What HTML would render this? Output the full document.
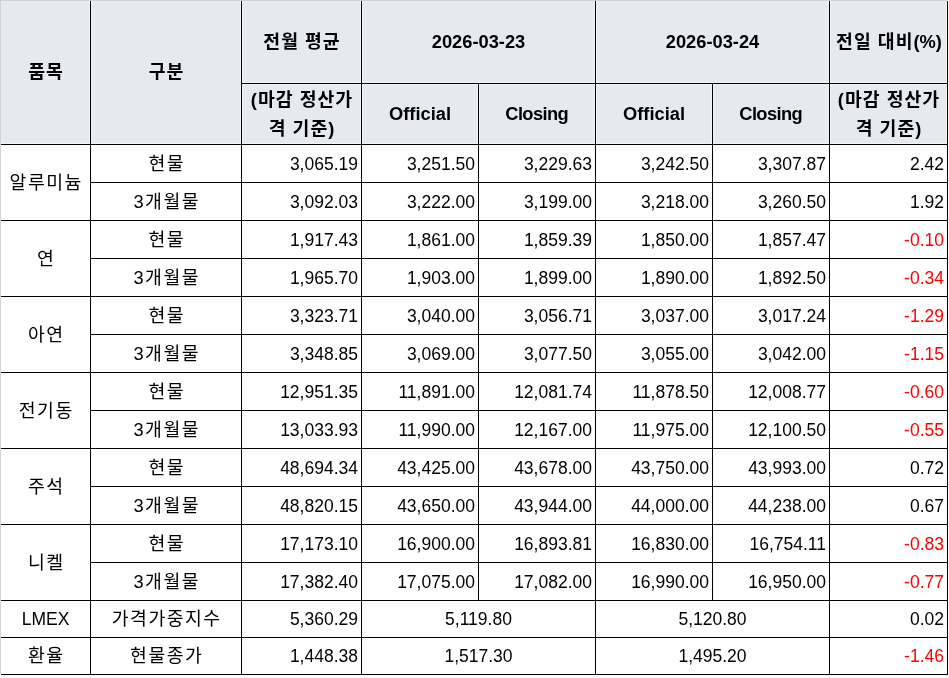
<!DOCTYPE html>
<html lang="ko"><head><meta charset="utf-8"><title>LME</title><style>
html,body{margin:0;padding:0;background:#fff;}
body{width:949px;height:678px;position:relative;overflow:hidden;}
div{position:absolute;box-sizing:border-box;}
.c{display:flex;align-items:center;justify-content:center;text-align:center;white-space:nowrap;}
.r{display:flex;align-items:center;justify-content:flex-end;white-space:nowrap;padding-right:3px;}
.hb{font-family:"Liberation Sans", "Noto Sans CJK KR", sans-serif;font-weight:bold;font-size:18.3px;line-height:26px;color:#000;letter-spacing:1px;padding-left:1px;}
.hb.lat{letter-spacing:0;padding-left:0;font-weight:bold;}
.two{line-height:29px;padding-bottom:1px;}
.nl{letter-spacing:0;font-weight:bold;}
.hb.lat.cl{letter-spacing:-0.6px;padding-right:0.6px;}
.kr{font-family:"Liberation Sans", "Noto Sans CJK KR", sans-serif;font-size:18.3px;line-height:22px;color:#000;letter-spacing:1.5px;padding-left:1.5px;}
.n{font-family:"Liberation Sans", "Noto Sans CJK KR", sans-serif;font-size:17.5px;line-height:22px;color:#000;}
.n2{font-family:"Liberation Sans", "Noto Sans CJK KR", sans-serif;font-size:17.5px;line-height:22px;color:#000;}
.red{color:#ff0000;}
</style></head>
<body>
<div class="l" style="left:1px;top:1px;width:946px;height:143px;background:#e6eaed"></div>
<div class="c hb" style="left:1px;top:1px;width:89px;height:143px;padding-bottom:2px">품목</div>
<div class="c hb" style="left:91px;top:1px;width:150px;height:143px;padding-bottom:2px">구분</div>
<div class="c hb" style="left:242px;top:1px;width:119px;height:82px;">전월 평균</div>
<div class="c hb two" style="left:242px;top:84px;width:119px;height:60px;">(마감 정산가<br>격 기준)</div>
<div class="c hb lat" style="left:362px;top:1px;width:233px;height:82px;">2026-03-23</div>
<div class="c hb lat" style="left:596px;top:1px;width:233px;height:82px;">2026-03-24</div>
<div class="c hb" style="left:830px;top:1px;width:117px;height:82px;">전일 대비<span class="nl">(%)</span></div>
<div class="c hb two" style="left:830px;top:84px;width:117px;height:60px;">(마감 정산가<br>격 기준)</div>
<div class="c hb lat" style="left:362px;top:84px;width:116px;height:60px;">Official</div>
<div class="c hb lat cl" style="left:479px;top:84px;width:116px;height:60px;">Closing</div>
<div class="c hb lat" style="left:596px;top:84px;width:116px;height:60px;">Official</div>
<div class="c hb lat cl" style="left:713px;top:84px;width:116px;height:60px;">Closing</div>
<div class="c kr" style="left:1px;top:145px;width:89px;height:75px;">알루미늄</div>
<div class="c kr" style="left:91px;top:145px;width:150px;height:37px;">현물</div>
<div class="r n" style="left:242px;top:145px;width:119px;height:37px;">3,065.19</div>
<div class="r n" style="left:362px;top:145px;width:116px;height:37px;">3,251.50</div>
<div class="r n" style="left:479px;top:145px;width:116px;height:37px;">3,229.63</div>
<div class="r n" style="left:596px;top:145px;width:116px;height:37px;">3,242.50</div>
<div class="r n" style="left:713px;top:145px;width:116px;height:37px;">3,307.87</div>
<div class="r n" style="left:830px;top:145px;width:117px;height:37px;">2.42</div>
<div class="c kr" style="left:91px;top:183px;width:150px;height:37px;">3개월물</div>
<div class="r n" style="left:242px;top:183px;width:119px;height:37px;">3,092.03</div>
<div class="r n" style="left:362px;top:183px;width:116px;height:37px;">3,222.00</div>
<div class="r n" style="left:479px;top:183px;width:116px;height:37px;">3,199.00</div>
<div class="r n" style="left:596px;top:183px;width:116px;height:37px;">3,218.00</div>
<div class="r n" style="left:713px;top:183px;width:116px;height:37px;">3,260.50</div>
<div class="r n" style="left:830px;top:183px;width:117px;height:37px;">1.92</div>
<div class="c kr" style="left:1px;top:221px;width:89px;height:75px;">연</div>
<div class="c kr" style="left:91px;top:221px;width:150px;height:37px;">현물</div>
<div class="r n" style="left:242px;top:221px;width:119px;height:37px;">1,917.43</div>
<div class="r n" style="left:362px;top:221px;width:116px;height:37px;">1,861.00</div>
<div class="r n" style="left:479px;top:221px;width:116px;height:37px;">1,859.39</div>
<div class="r n" style="left:596px;top:221px;width:116px;height:37px;">1,850.00</div>
<div class="r n" style="left:713px;top:221px;width:116px;height:37px;">1,857.47</div>
<div class="r n red" style="left:830px;top:221px;width:117px;height:37px;">-0.10</div>
<div class="c kr" style="left:91px;top:259px;width:150px;height:37px;">3개월물</div>
<div class="r n" style="left:242px;top:259px;width:119px;height:37px;">1,965.70</div>
<div class="r n" style="left:362px;top:259px;width:116px;height:37px;">1,903.00</div>
<div class="r n" style="left:479px;top:259px;width:116px;height:37px;">1,899.00</div>
<div class="r n" style="left:596px;top:259px;width:116px;height:37px;">1,890.00</div>
<div class="r n" style="left:713px;top:259px;width:116px;height:37px;">1,892.50</div>
<div class="r n red" style="left:830px;top:259px;width:117px;height:37px;">-0.34</div>
<div class="c kr" style="left:1px;top:297px;width:89px;height:75px;">아연</div>
<div class="c kr" style="left:91px;top:297px;width:150px;height:37px;">현물</div>
<div class="r n" style="left:242px;top:297px;width:119px;height:37px;">3,323.71</div>
<div class="r n" style="left:362px;top:297px;width:116px;height:37px;">3,040.00</div>
<div class="r n" style="left:479px;top:297px;width:116px;height:37px;">3,056.71</div>
<div class="r n" style="left:596px;top:297px;width:116px;height:37px;">3,037.00</div>
<div class="r n" style="left:713px;top:297px;width:116px;height:37px;">3,017.24</div>
<div class="r n red" style="left:830px;top:297px;width:117px;height:37px;">-1.29</div>
<div class="c kr" style="left:91px;top:335px;width:150px;height:37px;">3개월물</div>
<div class="r n" style="left:242px;top:335px;width:119px;height:37px;">3,348.85</div>
<div class="r n" style="left:362px;top:335px;width:116px;height:37px;">3,069.00</div>
<div class="r n" style="left:479px;top:335px;width:116px;height:37px;">3,077.50</div>
<div class="r n" style="left:596px;top:335px;width:116px;height:37px;">3,055.00</div>
<div class="r n" style="left:713px;top:335px;width:116px;height:37px;">3,042.00</div>
<div class="r n red" style="left:830px;top:335px;width:117px;height:37px;">-1.15</div>
<div class="c kr" style="left:1px;top:373px;width:89px;height:75px;">전기동</div>
<div class="c kr" style="left:91px;top:373px;width:150px;height:37px;">현물</div>
<div class="r n" style="left:242px;top:373px;width:119px;height:37px;">12,951.35</div>
<div class="r n" style="left:362px;top:373px;width:116px;height:37px;">11,891.00</div>
<div class="r n" style="left:479px;top:373px;width:116px;height:37px;">12,081.74</div>
<div class="r n" style="left:596px;top:373px;width:116px;height:37px;">11,878.50</div>
<div class="r n" style="left:713px;top:373px;width:116px;height:37px;">12,008.77</div>
<div class="r n red" style="left:830px;top:373px;width:117px;height:37px;">-0.60</div>
<div class="c kr" style="left:91px;top:411px;width:150px;height:37px;">3개월물</div>
<div class="r n" style="left:242px;top:411px;width:119px;height:37px;">13,033.93</div>
<div class="r n" style="left:362px;top:411px;width:116px;height:37px;">11,990.00</div>
<div class="r n" style="left:479px;top:411px;width:116px;height:37px;">12,167.00</div>
<div class="r n" style="left:596px;top:411px;width:116px;height:37px;">11,975.00</div>
<div class="r n" style="left:713px;top:411px;width:116px;height:37px;">12,100.50</div>
<div class="r n red" style="left:830px;top:411px;width:117px;height:37px;">-0.55</div>
<div class="c kr" style="left:1px;top:449px;width:89px;height:75px;">주석</div>
<div class="c kr" style="left:91px;top:449px;width:150px;height:37px;">현물</div>
<div class="r n" style="left:242px;top:449px;width:119px;height:37px;">48,694.34</div>
<div class="r n" style="left:362px;top:449px;width:116px;height:37px;">43,425.00</div>
<div class="r n" style="left:479px;top:449px;width:116px;height:37px;">43,678.00</div>
<div class="r n" style="left:596px;top:449px;width:116px;height:37px;">43,750.00</div>
<div class="r n" style="left:713px;top:449px;width:116px;height:37px;">43,993.00</div>
<div class="r n" style="left:830px;top:449px;width:117px;height:37px;">0.72</div>
<div class="c kr" style="left:91px;top:487px;width:150px;height:37px;">3개월물</div>
<div class="r n" style="left:242px;top:487px;width:119px;height:37px;">48,820.15</div>
<div class="r n" style="left:362px;top:487px;width:116px;height:37px;">43,650.00</div>
<div class="r n" style="left:479px;top:487px;width:116px;height:37px;">43,944.00</div>
<div class="r n" style="left:596px;top:487px;width:116px;height:37px;">44,000.00</div>
<div class="r n" style="left:713px;top:487px;width:116px;height:37px;">44,238.00</div>
<div class="r n" style="left:830px;top:487px;width:117px;height:37px;">0.67</div>
<div class="c kr" style="left:1px;top:525px;width:89px;height:75px;">니켈</div>
<div class="c kr" style="left:91px;top:525px;width:150px;height:37px;">현물</div>
<div class="r n" style="left:242px;top:525px;width:119px;height:37px;">17,173.10</div>
<div class="r n" style="left:362px;top:525px;width:116px;height:37px;">16,900.00</div>
<div class="r n" style="left:479px;top:525px;width:116px;height:37px;">16,893.81</div>
<div class="r n" style="left:596px;top:525px;width:116px;height:37px;">16,830.00</div>
<div class="r n" style="left:713px;top:525px;width:116px;height:37px;">16,754.11</div>
<div class="r n red" style="left:830px;top:525px;width:117px;height:37px;">-0.83</div>
<div class="c kr" style="left:91px;top:563px;width:150px;height:37px;">3개월물</div>
<div class="r n" style="left:242px;top:563px;width:119px;height:37px;">17,382.40</div>
<div class="r n" style="left:362px;top:563px;width:116px;height:37px;">17,075.00</div>
<div class="r n" style="left:479px;top:563px;width:116px;height:37px;">17,082.00</div>
<div class="r n" style="left:596px;top:563px;width:116px;height:37px;">16,990.00</div>
<div class="r n" style="left:713px;top:563px;width:116px;height:37px;">16,950.00</div>
<div class="r n red" style="left:830px;top:563px;width:117px;height:37px;">-0.77</div>
<div class="c n2" style="left:1px;top:601px;width:89px;height:36px;">LMEX</div>
<div class="c kr" style="left:91px;top:601px;width:150px;height:36px;">가격가중지수</div>
<div class="r n" style="left:242px;top:601px;width:119px;height:36px;">5,360.29</div>
<div class="c n" style="left:362px;top:601px;width:233px;height:36px;">5,119.80</div>
<div class="c n" style="left:596px;top:601px;width:233px;height:36px;">5,120.80</div>
<div class="r n" style="left:830px;top:601px;width:117px;height:36px;">0.02</div>
<div class="c kr" style="left:1px;top:638px;width:89px;height:36px;">환율</div>
<div class="c kr" style="left:91px;top:638px;width:150px;height:36px;">현물종가</div>
<div class="r n" style="left:242px;top:638px;width:119px;height:36px;">1,448.38</div>
<div class="c n" style="left:362px;top:638px;width:233px;height:36px;">1,517.30</div>
<div class="c n" style="left:596px;top:638px;width:233px;height:36px;">1,495.20</div>
<div class="r n red" style="left:830px;top:638px;width:117px;height:36px;">-1.46</div>
<div class="l" style="left:1px;top:1px;width:1px;height:143px;background:#eaedf0"></div>
<div class="l" style="left:1px;top:1px;width:946px;height:1px;background:#eaedf0"></div>
<div class="l" style="left:89px;top:1px;width:1px;height:143px;background:#f2f6f9"></div>
<div class="l" style="left:91px;top:1px;width:1px;height:143px;background:#f2f6f9"></div>
<div class="l" style="left:240px;top:1px;width:1px;height:143px;background:#f2f6f9"></div>
<div class="l" style="left:242px;top:1px;width:1px;height:143px;background:#f2f6f9"></div>
<div class="l" style="left:360px;top:1px;width:1px;height:143px;background:#f2f6f9"></div>
<div class="l" style="left:362px;top:1px;width:1px;height:143px;background:#f2f6f9"></div>
<div class="l" style="left:594px;top:1px;width:1px;height:143px;background:#f2f6f9"></div>
<div class="l" style="left:596px;top:1px;width:1px;height:143px;background:#f2f6f9"></div>
<div class="l" style="left:828px;top:1px;width:1px;height:143px;background:#f2f6f9"></div>
<div class="l" style="left:830px;top:1px;width:1px;height:143px;background:#f2f6f9"></div>
<div class="l" style="left:946px;top:1px;width:1px;height:143px;background:#f2f6f9"></div>
<div class="l" style="left:477px;top:84px;width:1px;height:60px;background:#f2f6f9"></div>
<div class="l" style="left:479px;top:84px;width:1px;height:60px;background:#f2f6f9"></div>
<div class="l" style="left:711px;top:84px;width:1px;height:60px;background:#f2f6f9"></div>
<div class="l" style="left:713px;top:84px;width:1px;height:60px;background:#f2f6f9"></div>
<div class="l" style="left:242px;top:82px;width:705px;height:1px;background:#f2f6f9"></div>
<div class="l" style="left:242px;top:84px;width:705px;height:1px;background:#f2f6f9"></div>
<div class="l" style="left:1px;top:143px;width:946px;height:1px;background:#f2f6f9"></div>
<div class="l" style="left:0px;top:0px;width:1px;height:674px;background:#d2d2d2"></div>
<div class="l" style="left:0px;top:0px;width:947px;height:1px;background:#d2d2d2"></div>
<div class="l" style="left:90px;top:1px;width:1px;height:674px;background:#000"></div>
<div class="l" style="left:241px;top:1px;width:1px;height:674px;background:#000"></div>
<div class="l" style="left:361px;top:1px;width:1px;height:674px;background:#000"></div>
<div class="l" style="left:947px;top:1px;width:1px;height:674px;background:#000"></div>
<div class="l" style="left:478px;top:83px;width:1px;height:518px;background:#000"></div>
<div class="l" style="left:712px;top:83px;width:1px;height:518px;background:#000"></div>
<div class="l" style="left:595px;top:1px;width:1px;height:674px;background:#000"></div>
<div class="l" style="left:829px;top:1px;width:1px;height:674px;background:#000"></div>
<div class="l" style="left:241px;top:83px;width:707px;height:1px;background:#000"></div>
<div class="l" style="left:1px;top:144px;width:947px;height:1px;background:#000"></div>
<div class="l" style="left:90px;top:182px;width:858px;height:1px;background:#000"></div>
<div class="l" style="left:1px;top:220px;width:947px;height:1px;background:#000"></div>
<div class="l" style="left:90px;top:258px;width:858px;height:1px;background:#000"></div>
<div class="l" style="left:1px;top:296px;width:947px;height:1px;background:#000"></div>
<div class="l" style="left:90px;top:334px;width:858px;height:1px;background:#000"></div>
<div class="l" style="left:1px;top:372px;width:947px;height:1px;background:#000"></div>
<div class="l" style="left:90px;top:410px;width:858px;height:1px;background:#000"></div>
<div class="l" style="left:1px;top:448px;width:947px;height:1px;background:#000"></div>
<div class="l" style="left:90px;top:486px;width:858px;height:1px;background:#000"></div>
<div class="l" style="left:1px;top:524px;width:947px;height:1px;background:#000"></div>
<div class="l" style="left:90px;top:562px;width:858px;height:1px;background:#000"></div>
<div class="l" style="left:1px;top:600px;width:947px;height:1px;background:#000"></div>
<div class="l" style="left:1px;top:637px;width:947px;height:1px;background:#000"></div>
<div class="l" style="left:1px;top:674px;width:947px;height:1px;background:#000"></div>
</body></html>
